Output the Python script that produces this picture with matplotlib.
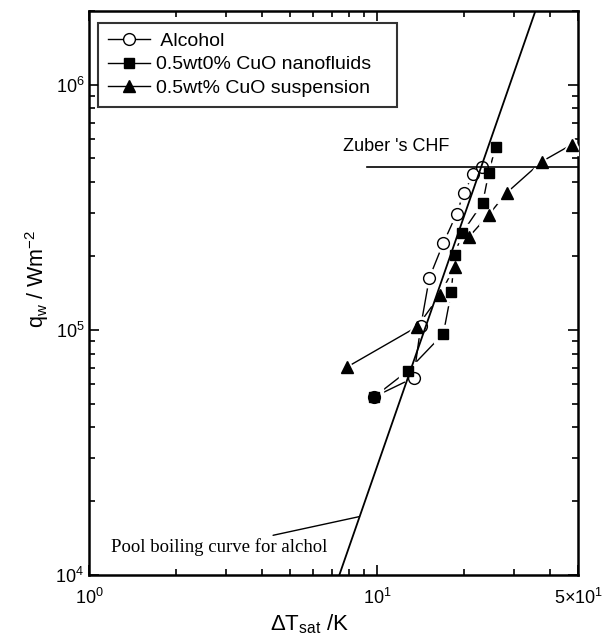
import matplotlib.pyplot as plt
from matplotlib.ticker import FixedLocator, LogLocator, NullFormatter

plt.rcParams['font.family'] = ['Liberation Sans', 'DejaVu Sans']
plt.rcParams['mathtext.default'] = 'regular'

# data (dT in K, q in W/m2)
alc_dt = [9.79, 13.4, 14.2, 15.2, 17.0, 18.9, 20.0, 21.6, 23.1]
alc_q = [5.33e4, 6.37e4, 1.04e5, 1.63e5, 2.26e5, 2.97e5, 3.62e5, 4.30e5, 4.62e5]

nano_dt = [9.79, 12.8, 17.0, 18.1, 18.6, 19.8, 23.3, 24.4, 25.8]
nano_q = [5.33e4, 6.81e4, 9.64e4, 1.42e5, 2.02e5, 2.49e5, 3.30e5, 4.34e5, 5.58e5]

susp_dt = [7.89, 13.8, 16.5, 18.6, 20.9, 24.4, 28.2, 37.3, 47.4]
susp_q = [7.06e4, 1.03e5, 1.38e5, 1.81e5, 2.40e5, 2.94e5, 3.62e5, 4.85e5, 5.69e5]

pool_dt = [7.4, 35.5]
pool_q = [1e4, 2e6]

zuber_dt = [9.26, 50]
zuber_q = [4.6e5, 4.6e5]

fig = plt.figure(figsize=(6.1, 6.36), dpi=100)
ax = fig.add_axes([0.146, 0.096, 0.802, 0.887])

series = [
    (alc_dt, alc_q, 'o', 'white', 8.5, ' Alcohol'),
    (nano_dt, nano_q, 's', 'black', 7.5, '0.5wt0% CuO nanofluids   '),
    (susp_dt, susp_q, '^', 'black', 9, '0.5wt% CuO suspension'),
]

# connecting lines with a white gap around every symbol
for dt, q, m, fc, ms, lab in series:
    ax.plot(dt, q, '-', color='black', lw=1.0, zorder=2)
for dt, q, m, fc, ms, lab in series:
    ax.plot(dt, q, m, ls='none', mfc='white', mec='white', ms=ms + 5, zorder=3)
for dt, q, m, fc, ms, lab in series:
    ax.plot(dt, q, m, ls='none', mfc=fc, mec='black', mew=1.0, ms=ms, zorder=4)
    ax.plot([], [], '-', marker=m, color='black', mfc=fc, mec='black', ms=ms, lw=1.0, label=lab)

ax.plot(pool_dt, pool_q, '-', color='black', lw=1.3, zorder=5)
ax.plot(zuber_dt, zuber_q, '-', color='black', lw=1.2, zorder=5)

ax.text(7.6, 5.6e5, "Zuber 's CHF", fontsize=13, va='center', ha='left')
ax.annotate('Pool boiling curve for alchol', xy=(8.69, 1.73e4), xytext=(1.19, 1.3e4),
            fontsize=13.5, family='Liberation Serif', va='center', ha='left',
            arrowprops=dict(arrowstyle='-', color='black', lw=1.0, shrinkA=0, shrinkB=0))

ax.set_xscale('log')
ax.set_yscale('log')
ax.set_xlim(1, 50)
ax.set_ylim(1e4, 2e6)

ax.xaxis.set_major_locator(FixedLocator([1, 10, 50]))
ax.set_xticklabels(['$10^{0}$', '$10^{1}$', '$5{\\times}10^{1}$'])
ax.xaxis.set_minor_locator(FixedLocator([2, 3, 4, 5, 6, 7, 8, 9, 20, 30, 40]))
ax.xaxis.set_minor_formatter(NullFormatter())
ax.yaxis.set_major_locator(FixedLocator([1e4, 1e5, 1e6]))
ax.set_yticklabels(['$10^{4}$', '$10^{5}$', '$10^{6}$'])
ax.yaxis.set_minor_locator(LogLocator(base=10, subs=range(2, 10)))
ax.yaxis.set_minor_formatter(NullFormatter())

ax.tick_params(which='both', direction='in', top=True, right=True, labelsize=13, width=1.2)
ax.tick_params(which='major', length=7)
ax.tick_params(which='minor', length=4)
ax.tick_params(axis='x', which='major', pad=9)
for s in ax.spines.values():
    s.set_linewidth(1.8)

ax.set_xlabel('$\\Delta T_{sat}$ /K', fontsize=16)
ax.set_ylabel('$q_{w}$ / $Wm^{-2}$', fontsize=15.5)
ax.xaxis.set_label_coords(0.45, -0.066)
ax.yaxis.set_label_coords(-0.078, 0.525)

leg = ax.legend(loc='upper left', bbox_to_anchor=(0.018, 0.979), borderaxespad=0,
                fontsize=14, frameon=True, fancybox=False, handlelength=2.2,
                labelspacing=0.3, borderpad=0.5, handletextpad=0.3)
leg.get_frame().set_edgecolor('black')
leg.get_frame().set_linewidth(1.5)

fig.savefig('out.png', dpi=100)
